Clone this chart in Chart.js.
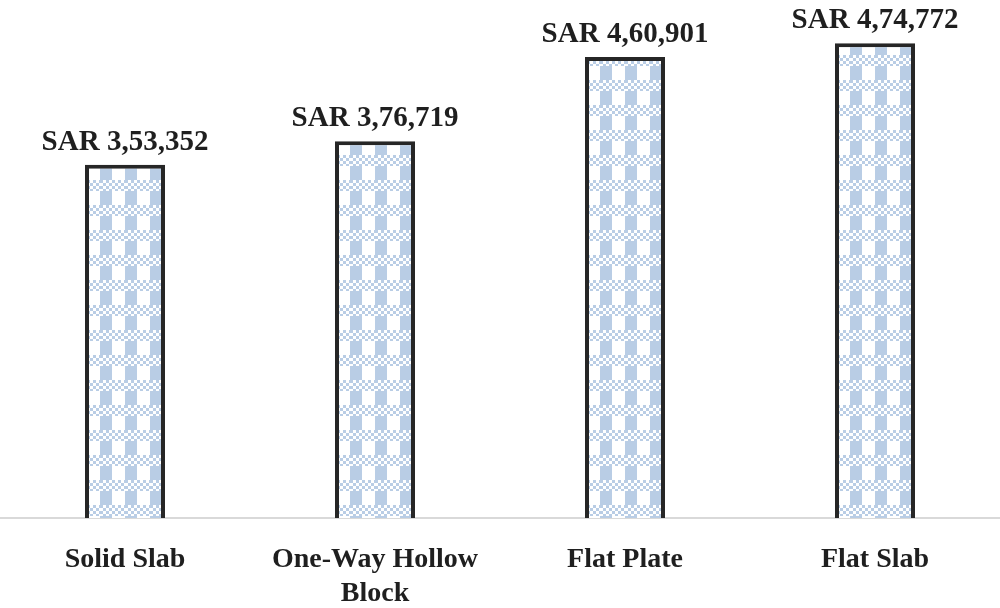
<!DOCTYPE html>
<html>
<head>
<meta charset="utf-8">
<script src="https://cdn.jsdelivr.net/npm/chart.js@4"></script>
<style>
html,body{margin:0;padding:0;background:#fff;}
#wrap{width:1000px;height:608px;}
</style>
</head>
<body>
<div id="wrap"><canvas id="c" width="1000" height="608"></canvas></div>
<script>
const categories = ["Solid Slab", ["One-Way Hollow", "Block"], "Flat Plate", "Flat Slab"];
const costs = [353352, 376719, 460901, 474772];
const costLabels = ["SAR 3,53,352", "SAR 3,76,719", "SAR 4,60,901", "SAR 4,74,772"];

function makePattern(ctx) {
  const t = document.createElement('canvas');
  t.width = 25; t.height = 25;
  const g = t.getContext('2d');
  const blue = '#b9cde5';
  g.fillStyle = '#ffffff';
  g.fillRect(0, 0, 25, 25);
  // vertical stripes
  g.fillStyle = blue;
  g.fillRect(0, 0, 12, 25);
  // checker band
  g.fillStyle = '#ffffff';
  g.fillRect(0, 5, 25, 11);
  g.fillStyle = blue;
  for (let y = 5; y < 16; y += 3) {
    for (let x = 0; x < 25; x += 3) {
      if (((x / 3) + ((y - 5) / 3)) % 2 === 0) g.fillRect(x, y, 3, Math.min(3, 16 - y));
    }
  }
  return ctx.createPattern(t, 'repeat');
}

const ctx = document.getElementById('c').getContext('2d');
const pattern = makePattern(ctx);

const valueLabelPlugin = {
  id: 'valueLabels',
  afterDatasetsDraw(chart) {
    const c = chart.ctx;
    const meta = chart.getDatasetMeta(0);
    c.save();
    c.font = 'bold 29px "Liberation Serif", "Times New Roman", serif';
    c.fillStyle = '#1f1f1f';
    c.textAlign = 'center';
    c.textBaseline = 'alphabetic';
    meta.data.forEach((bar, i) => {
      c.fillText(costLabels[i], bar.x, bar.y - 15);
    });
    c.restore();
  }
};

new Chart(ctx, {
  type: 'bar',
  data: {
    labels: categories,
    datasets: [{
      data: costs,
      backgroundColor: pattern,
      borderColor: '#262626',
      borderWidth: 4,
      borderSkipped: 'bottom',
      barPercentage: 0.32,
      categoryPercentage: 1.0
    }]
  },
  options: {
    responsive: false,
    animation: false,
    devicePixelRatio: 1,
    layout: { padding: { top: 18, left: 0, right: 0, bottom: 0 } },
    plugins: { legend: { display: false }, tooltip: { enabled: false } },
    scales: {
      y: { display: false, min: 0, max: 500000 },
      x: {
        afterFit(scale) { scale.height = 90; },
        grid: { display: false, drawTicks: false },
        border: { display: true, color: '#d9d9d9', width: 2 },
        ticks: {
          padding: 25,
          color: '#1f1f1f',
          font: { family: '"Liberation Serif", "Times New Roman", serif', size: 28, weight: 'bold', lineHeight: 1.21 }
        }
      }
    }
  },
  plugins: [valueLabelPlugin]
});
</script>
</body>
</html>
